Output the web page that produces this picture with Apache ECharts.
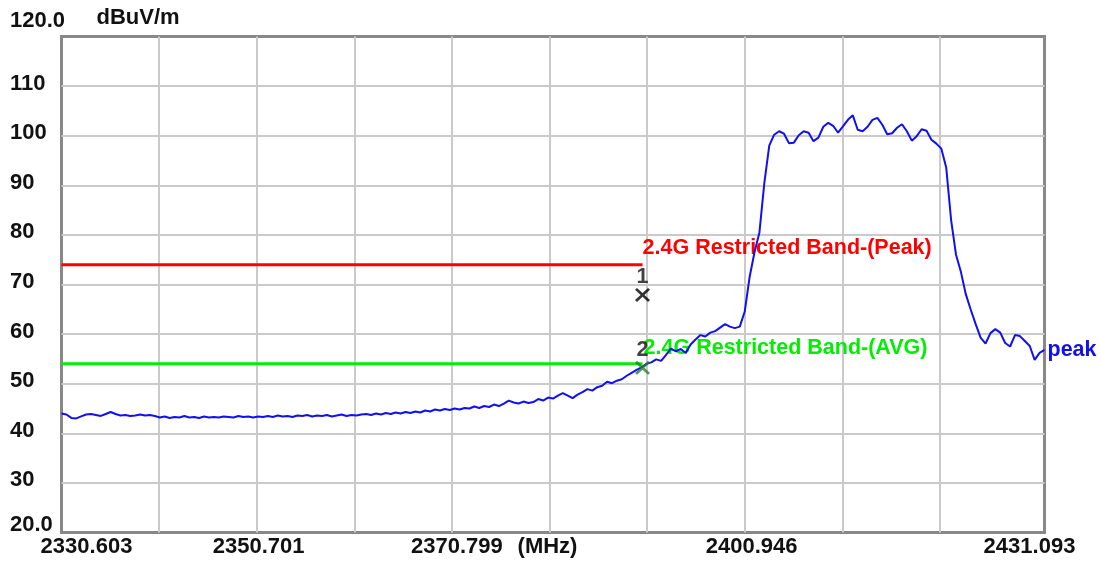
<!DOCTYPE html>
<html>
<head>
<meta charset="utf-8">
<script src="https://cdn.jsdelivr.net/npm/echarts@6/dist/echarts.min.js"></script>
<style>
  html, body { margin: 0; padding: 0; background: #ffffff; }
  #chart { width: 1100px; height: 562px; }
</style>
</head>
<body>
<div id="chart"></div>
<script>
// Sweep settings of the analyzer (MHz)
const sweepStartMHz = 2330.603;
const sweepStopMHz = 2431.093;

// Labels under the ten grid divisions of the frequency axis
const xTickLabels = ['2330.603', '', '2350.701', '', '2370.799', '(MHz)', '', '2400.946', '', '', '2431.093'];

// Level axis (dBuV/m)
const levelMin = 20;
const levelMax = 120;
const levelStep = 10;

// Peak detector trace, evenly spaced over the sweep (dBuV/m)
const peakTrace = [
  44.0, 43.8, 43.1, 43.0, 43.4, 43.8, 43.9, 43.7, 43.5, 43.9, 44.3, 43.9, 43.6, 43.7, 43.5, 43.6, 43.8, 43.6, 43.7, 43.5, 43.2,
  43.4, 43.1, 43.3, 43.2, 43.5, 43.2, 43.3, 43.1, 43.4, 43.2, 43.3, 43.2, 43.4, 43.3, 43.2, 43.5, 43.3, 43.4, 43.2, 43.4,
  43.3, 43.5, 43.3, 43.6, 43.4, 43.5, 43.3, 43.6, 43.5, 43.7, 43.4, 43.6, 43.5, 43.7, 43.4, 43.6, 43.8, 43.5, 43.7, 43.6,
  43.8, 43.9, 43.7, 44.0, 43.8, 44.1, 43.9, 44.2, 44.0, 44.3, 44.1, 44.4, 44.2, 44.6, 44.4, 44.8, 44.6, 44.9, 44.7, 45.0,
  44.8, 45.1, 45.0, 45.4, 45.1, 45.5, 45.3, 45.8, 45.5, 46.0, 46.6, 46.2, 46.0, 46.4, 46.1, 46.3, 46.9, 46.6, 47.2, 47.0,
  47.6, 48.1, 47.6, 47.1, 47.8, 48.3, 48.9, 48.6, 49.3, 49.6, 50.4, 50.1, 50.6, 50.9, 51.6, 52.2, 52.8, 53.3, 54.0, 54.3,
  54.9, 54.6, 55.8, 57.1, 56.5, 57.0, 56.2, 57.9, 58.9, 59.8, 59.5, 60.3, 60.6, 61.3, 62.0, 61.5, 61.2, 61.5, 64.5, 71.5,
  76.5, 80.5, 90.5, 98.0, 100.2, 100.9, 100.4, 98.5, 98.6, 100.1, 100.9, 100.6, 98.9, 99.6, 101.8, 102.6, 102.0, 100.6, 101.9, 103.2,
  104.1, 101.2, 100.9, 101.8, 103.2, 103.6, 102.2, 100.3, 100.5, 101.6, 102.3, 100.9, 99.0, 99.9, 101.3, 101.0, 99.2, 98.4, 97.4, 93.6,
  83.0, 76.0, 72.5, 68.0, 64.9, 62.0, 59.3, 58.1, 60.2, 61.0, 60.3, 58.2, 57.5, 59.8, 59.6, 58.6, 57.6, 54.8, 56.2, 56.8
];

// Restricted band limits, ending at the band edge
const bandEdgeMHz = 2390;
const limitPeakLevel = 74;
const limitAvgLevel = 54;
const limitPeakText = '2.4G Restricted Band-(Peak)';
const limitAvgText = '2.4G Restricted Band-(AVG)';

// Markers placed at the band edge
const markerNames = ['1', '2'];
const markerFreqs = [2390, 2390];
const markerLevels = [67.9, 53.2];
const markerColors = ['#000000', '#2c7a2c'];

const FONT = '"Liberation Sans", Arial, sans-serif';
const span = sweepStopMHz - sweepStartMHz;
const division = span / 10;
const step = span / (peakTrace.length - 1);
const toX = f => f - sweepStartMHz;

const traceData = peakTrace.map((v, i) => [i * step, v]);

// Thick "X" marker glyph
const crossPath = 'path://M0,1.3L1.3,0L5,3.7L8.7,0L10,1.3L6.3,5L10,8.7L8.7,10L5,6.3L1.3,10L0,8.7L3.7,5Z';

// Per-label horizontal nudges of the frequency tick labels
const xLabelStyle = ['a', '', 'b', '', 'c', 'd', '', 'f', '', '', 'e'];

const chart = echarts.init(document.getElementById('chart'), null, { renderer: 'canvas' });

const axisText = { fontFamily: FONT, fontSize: 22, fontWeight: 'bold', color: '#111111' };
const noteText = { fontFamily: FONT, fontSize: 21.5, fontWeight: 'bold' };
const gridLine = { color: '#cacaca', width: 2 };

chart.setOption({
  animation: false,
  backgroundColor: '#ffffff',
  grid: [
    // graticule columns (the screen's last column is slightly wider, so this grid stops short)
    { left: 61.5, right: 62.5, top: 36.5, bottom: 29.5, show: false },
    // plotting area with its frame
    {
      left: 61.5, right: 55.5, top: 36.5, bottom: 29.5,
      show: true, borderColor: '#888888', borderWidth: 3, backgroundColor: 'transparent'
    }
  ],
  xAxis: [
    {
      gridIndex: 0,
      type: 'value',
      min: 0,
      max: span,
      interval: division,
      axisLine: { show: false },
      axisTick: { show: false },
      splitLine: { show: true, showMinLine: false, showMaxLine: false, lineStyle: gridLine },
      axisLabel: {
        show: true,
        margin: 3,
        hideOverlap: false,
        showMinLabel: true,
        showMaxLabel: true,
        ...axisText,
        formatter: v => {
          const i = Math.round(v / division);
          if (Math.abs(v / division - i) > 0.01) return '';
          const t = xTickLabels[i] || '';
          if (!t) return '';
          return '{' + xLabelStyle[i] + '|' + t + '}';
        },
        rich: {
          a: { ...axisText, padding: [0, 0, 0, 50] },
          b: { ...axisText, padding: [0, 0, 0, 4] },
          c: { ...axisText, padding: [0, 0, 0, 10] },
          d: { ...axisText, padding: [0, 4, 0, 0] },
          f: { ...axisText, padding: [0, 0, 0, 14] },
          e: { ...axisText, padding: [0, 16, 0, 0] }
        }
      }
    },
    {
      gridIndex: 1,
      type: 'value',
      min: 0,
      max: span,
      show: false,
      splitLine: { show: false }
    }
  ],
  yAxis: [
    {
      gridIndex: 0,
      type: 'value',
      min: levelMin,
      max: levelMax,
      show: false,
      splitLine: { show: false }
    },
    {
      gridIndex: 1,
      type: 'value',
      min: levelMin,
      max: levelMax,
      interval: levelStep,
      name: 'dBuV/m',
      nameLocation: 'end',
      nameGap: 19,
      nameTextStyle: { ...axisText, align: 'left', verticalAlign: 'middle', padding: [0, 0, 0, 35] },
      axisLine: { show: false },
      axisTick: { show: false },
      splitLine: { show: true, showMinLine: false, showMaxLine: false, lineStyle: gridLine },
      axisLabel: {
        show: true,
        align: 'left',
        margin: 51.5,
        showMinLabel: true,
        showMaxLabel: true,
        ...axisText,
        formatter: v => {
          if (v === levelMax) return '{t|' + v.toFixed(1) + '}';
          if (v === levelMin) return '{b|' + v.toFixed(1) + '}';
          return '{v|' + v + '}';
        },
        rich: {
          t: { ...axisText, padding: [0, 0, 31, 0] },
          b: { ...axisText, padding: [0, 0, 15, 0] },
          v: { ...axisText, padding: [0, 0, 5, 0] }
        }
      }
    }
  ],
  series: [
    {
      name: 'limitPeak',
      type: 'line',
      xAxisIndex: 1,
      yAxisIndex: 1,
      z: 2,
      symbol: 'circle',
      symbolSize: 0.1,
      itemStyle: { color: '#ff0000' },
      lineStyle: { color: '#ff0000', width: 3 },
      data: [
        [0, limitPeakLevel],
        {
          value: [toX(bandEdgeMHz), limitPeakLevel],
          label: {
            show: true, position: 'right', distance: 0, offset: [0, -17],
            formatter: limitPeakText, ...noteText, color: '#ff0000'
          }
        }
      ]
    },
    {
      name: 'limitAvg',
      type: 'line',
      xAxisIndex: 1,
      yAxisIndex: 1,
      z: 2,
      symbol: 'circle',
      symbolSize: 0.1,
      itemStyle: { color: '#00ee00' },
      lineStyle: { color: '#00ee00', width: 3 },
      data: [
        [0, limitAvgLevel],
        {
          value: [toX(bandEdgeMHz), limitAvgLevel],
          label: {
            show: true, position: 'right', distance: 1, offset: [0, -16],
            formatter: limitAvgText, ...noteText, color: '#00ee00'
          }
        }
      ]
    },
    {
      name: 'peak',
      type: 'line',
      xAxisIndex: 1,
      yAxisIndex: 1,
      z: 3,
      showSymbol: false,
      symbol: 'none',
      lineStyle: { color: '#1010f0', width: 2 },
      data: traceData,
      endLabel: {
        show: true, formatter: 'peak', distance: 3,
        ...noteText, color: '#1010f0'
      }
    },
    {
      name: 'markers',
      type: 'scatter',
      xAxisIndex: 1,
      yAxisIndex: 1,
      z: 4,
      symbol: crossPath,
      symbolSize: [15, 14],
      data: markerNames.map((n, i) => ({
        name: n,
        value: [toX(markerFreqs[i]), markerLevels[i]],
        itemStyle: { color: markerColors[i] }
      })),
      label: {
        show: true, position: 'top', distance: 0,
        formatter: p => p.name, ...noteText, color: '#111111'
      }
    }
  ]
});
</script>
</body>
</html>
